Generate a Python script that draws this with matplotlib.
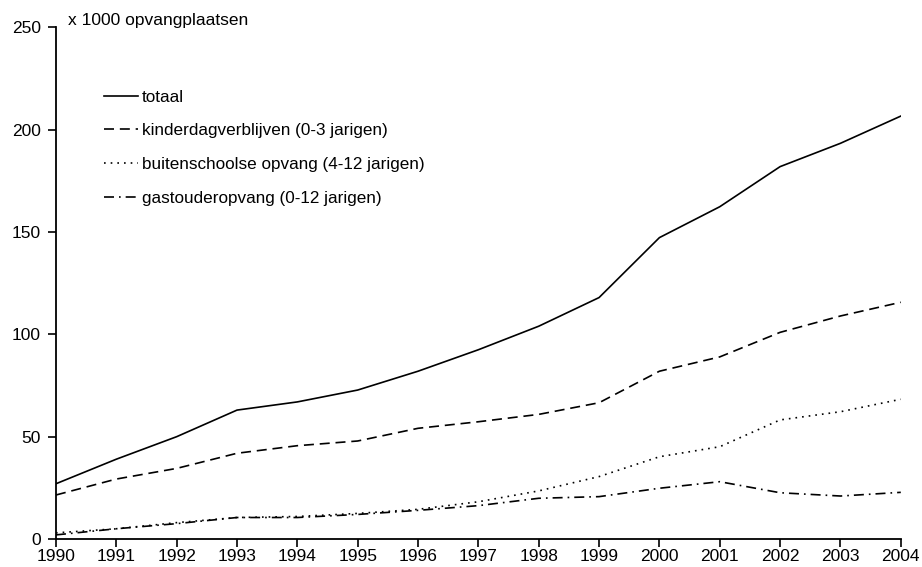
import matplotlib.pyplot as plt

plt.rcParams['font.family'] = ['Liberation Sans', 'DejaVu Sans']

jaren = list(range(1990, 2005))
totaal = [27, 39, 50, 63, 67, 72.8, 82, 92.5, 104, 118, 147.3, 162.4, 182, 193.4, 206.7]
kdv = [21.5, 29.3, 34.5, 41.9, 45.6, 47.9, 54.1, 57.3, 60.9, 66.6, 82, 89, 101, 109, 115.7]
bso = [3, 5, 8, 10.5, 11, 12.5, 14.5, 18.2, 23.5, 30.5, 40.2, 45.1, 58.2, 62.2, 68.3]
gastouder = [2, 5, 7.5, 10.5, 10.5, 12, 14, 16.3, 19.9, 20.7, 24.8, 28, 22.6, 21, 22.8]

labels = ['totaal', 'kinderdagverblijven (0-3 jarigen)',
          'buitenschoolse opvang (4-12 jarigen)', 'gastouderopvang (0-12 jarigen)']

fig = plt.figure(figsize=(9.22, 5.67), dpi=100)
ax = fig.add_axes([0.0607, 0.0494, 0.9163, 0.9021])

lw = 1.2
ax.plot(jaren, totaal, color='black', lw=lw, label=labels[0])
ax.plot(jaren, kdv, color='black', lw=lw, ls=(0, (6, 3.5)), label=labels[1])
ax.plot(jaren, bso, color='black', lw=lw, ls=(0, (1, 3)), label=labels[2])
ax.plot(jaren, gastouder, color='black', lw=lw, ls=(0, (6, 3, 1, 3)), label=labels[3])

ax.set_xlim(1990, 2004)
ax.set_ylim(0, 250)
ax.set_xticks(jaren)
ax.set_yticks(range(0, 251, 50))
ax.tick_params(labelsize=12.5, length=6, width=1.2, direction='out', colors='black')
ax.tick_params(axis='x', pad=1.5)
ax.tick_params(axis='y', pad=5)
ax.spines['top'].set_visible(False)
ax.spines['right'].set_visible(False)
ax.spines['left'].set_linewidth(1.3)
ax.spines['bottom'].set_linewidth(1.3)

fig.text(68 / 922, 1 - 20 / 567, 'x 1000 opvangplaatsen', fontsize=12.5, va='center', ha='left')

ax.legend(loc='upper left', bbox_to_anchor=(104 / 922, 1 - 89.5 / 567),
          bbox_transform=fig.transFigure, frameon=False, fontsize=12.3,
          handlelength=2.0, handletextpad=0.2, labelspacing=1.1, borderpad=0,
          borderaxespad=0)

fig.savefig('out.png', dpi=100)
